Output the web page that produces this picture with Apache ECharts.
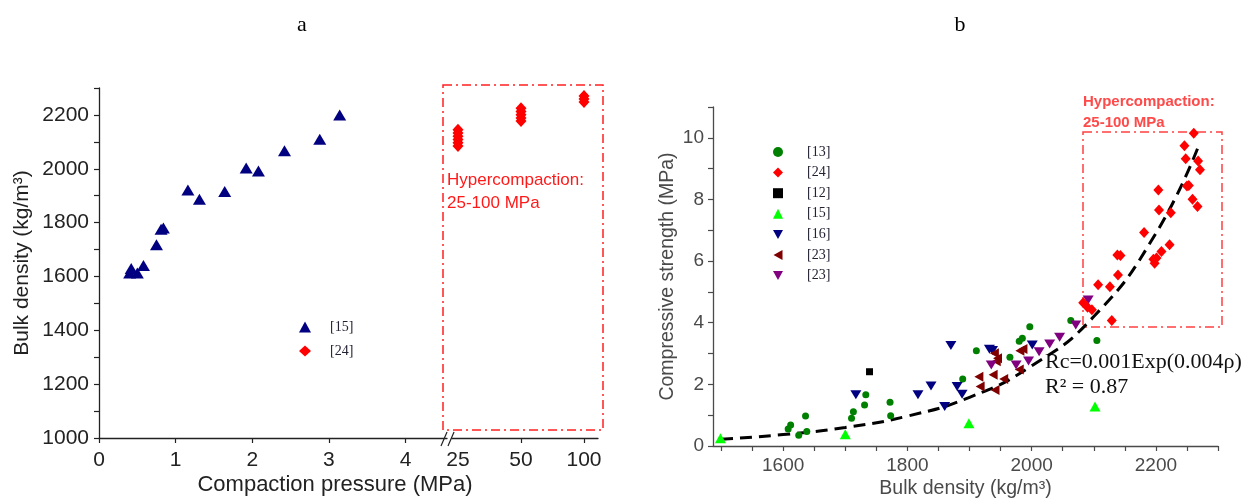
<!DOCTYPE html>
<html><head><meta charset="utf-8">
<script src="https://cdn.jsdelivr.net/npm/echarts@6/dist/echarts.min.js"></script>
<style>html,body{margin:0;padding:0;background:#fff}#c{width:1259px;height:500px}</style>
</head><body><div id="c"></div>
<script>
// ---------- Panel a ----------
const lowTicks = [0, 1, 2, 3, 4];
const highTicks = [25, 50, 100];
const highTickMarks = [50, 100];
const densityLabels = [1000, 1200, 1400, 1600, 1800, 2000, 2200];
const densityTickVals = [1000, 1100, 1200, 1300, 1400, 1500, 1600, 1700, 1800, 1900, 2000, 2100, 2200, 2300];
const pressure15 = [0.40, 0.42, 0.50, 0.58, 0.75, 0.81, 0.84, 1.16, 1.31, 1.64, 1.92, 2.08, 2.42, 2.88, 3.14];
const density15  = [1613, 1630, 1613, 1641, 1718, 1775, 1780, 1921, 1887, 1916, 2003, 1992, 2067, 2110, 2200];
const pressure24 = [25, 25, 25, 25, 25, 25, 50, 50, 50, 50, 50, 100, 100, 100];
const density24  = [2085, 2097, 2109, 2121, 2133, 2145, 2177, 2189, 2201, 2213, 2225, 2248, 2259, 2270];

// ---------- Panel b ----------
const strengthLabels = [0, 2, 4, 6, 8, 10];
const strengthTickVals = [0, 1, 2, 3, 4, 5, 6, 7, 8, 9, 10, 11];
const bulkLabels = [1600, 1800, 2000, 2200];
const bulkTickVals = [1500, 1550, 1600, 1650, 1700, 1750, 1800, 1850, 1900, 1950, 2000, 2050, 2100, 2150, 2200, 2250, 2300];

const rho13 = [1608, 1612, 1625, 1636, 1638, 1710, 1713, 1731, 1733, 1772, 1773, 1889, 1911, 1965, 1980, 1985, 1997, 2063, 2105];
const rc13  = [0.55, 0.68, 0.35, 0.97, 0.47, 0.90, 1.11, 1.33, 1.66, 1.42, 0.98, 2.17, 3.09, 2.88, 3.40, 3.50, 3.87, 4.07, 3.42];
const rho24 = [2083, 2090, 2097, 2107, 2126, 2129, 2139, 2138, 2143, 2181, 2196, 2198, 2201, 2209, 2222, 2204, 2205, 2224, 2246, 2248, 2250, 2253, 2259, 2261, 2267, 2268, 2271];
const rc24  = [4.65, 4.50, 4.42, 5.23, 5.17, 4.07, 5.55, 6.20, 6.18, 6.93, 6.06, 5.93, 6.10, 6.31, 6.53, 8.31, 7.66, 7.57, 9.74, 9.32, 8.44, 8.45, 8.01, 10.15, 7.77, 9.25, 8.96];
const rho12 = [1739];
const rc12  = [2.41];
const rho15 = [1499, 1700, 1899, 2102];
const rc15  = [0.25, 0.38, 0.74, 1.28];
const rho16 = [1717, 1817, 1838, 1860, 1870, 1880, 1888, 1932, 1937, 2001];
const rc16  = [1.66, 1.66, 1.95, 1.28, 3.26, 1.93, 1.68, 3.14, 3.10, 3.28];
const rho23a = [1915, 1917, 1938, 1940, 1945, 1943, 1941, 1955, 1980, 1981, 1986];
const rc23a  = [2.25, 1.93, 2.31, 3.01, 2.85, 2.75, 1.82, 2.17, 2.48, 3.09, 3.15];
const rho23b = [1935, 1975, 1995, 2012, 2029, 2045, 2071, 2091];
const rc23b  = [2.63, 2.63, 2.76, 3.06, 3.31, 3.53, 3.93, 4.74];
const fitRho = [1500, 1600, 1700, 1800, 1900, 2000, 2100, 2200, 2270];
const fitRc  = [0.22, 0.37, 0.60, 0.97, 1.58, 2.60, 4.20, 6.90, 9.80];

const legendNames = {a15: '[15]', a24: '[24]', b13: '[13]', b24: '[24]', b12: '[12]', b15: '[15]', b16: '[16]', b23a: '[23]', b23b: '[23]'};

const zip = (xs, ys) => xs.map((x, i) => [x, ys[i]]);

const sans = 'Liberation Sans';
const serif = 'Liberation Serif';
const colA = '#222';
const colB = '#4a4a4a';
const downTri = 'path://M0,0L10,0L5,9Z';
const leftTri = 'path://M9,0L9,10L0,5Z';

function axisCommon(color, fs, ticks, labels, margin, extra) {
  return Object.assign({
    type: 'value',
    splitLine: {show: false},
    nameMoveOverlap: false,
    axisLine: {show: true, onZero: false, lineStyle: {color: color, width: 1.3}},
    axisTick: {show: true, customValues: ticks, length: 5, lineStyle: {color: color, width: 1.2}},
    axisLabel: {customValues: labels, fontSize: fs, color: color, fontFamily: sans, margin: margin, formatter: v => String(v)}
  }, extra);
}

const chart = echarts.init(document.getElementById('c'), null, {renderer: 'canvas'});

const legendText = (pad) => ({fontFamily: serif, fontSize: 14, color: '#223', lineHeight: 14, padding: [0, 0, 0, pad]});

const option = {
  animation: false,
  backgroundColor: '#fff',
  grid: [
    {left: 99, top: 88, width: 348, height: 350, outerBoundsMode: 'none'},
    {left: 452, top: 88, width: 146, height: 350, outerBoundsMode: 'none'},
    {left: 713, top: 107, width: 505, height: 339, outerBoundsMode: 'none'}
  ],
  xAxis: [
    axisCommon(colA, 21, lowTicks, lowTicks, 12, {gridIndex: 0, min: 0, max: 4.54}),
    (function () {
      const a = axisCommon(colA, 21, [1, 2], [0, 1, 2], 12, {gridIndex: 1, min: -0.095, max: 2.222});
      a.axisTick.customValues = highTickMarks.map(v => highTicks.indexOf(v));
      a.axisLabel.formatter = v => String(highTicks[Math.round(v)]);
      return a;
    })(),
    axisCommon(colB, 19, bulkTickVals, bulkLabels, 10, {
      gridIndex: 2, min: 1487, max: 2300,
      name: 'Bulk density (kg/m³)', nameLocation: 'middle', nameGap: 33,
      nameTextStyle: {fontSize: 19.5, color: colB, fontFamily: sans}
    })
  ],
  yAxis: [
    axisCommon(colA, 21, densityTickVals, densityLabels, 10, {
      gridIndex: 0, min: 1000, max: 2300,
      name: 'Bulk density (kg/m³)', nameLocation: 'middle', nameGap: 66,
      nameTextStyle: {fontSize: 21, color: colA, fontFamily: sans}
    }),
    {type: 'value', gridIndex: 1, min: 1000, max: 2300, show: false, splitLine: {show: false}},
    axisCommon(colB, 19, strengthTickVals, strengthLabels, 9, {
      gridIndex: 2, min: 0, max: 11,
      name: 'Compressive strength (MPa)', nameLocation: 'middle', nameGap: 35,
      nameTextStyle: {fontSize: 19.5, color: colB, fontFamily: sans}
    })
  ],
  legend: [
    {
      data: [{name: 'a15'}, {name: 'a24'}], formatter: n => legendNames[n], selectedMode: false,
      orient: 'vertical', left: 294, top: 315, itemWidth: 12, itemHeight: 11, itemGap: 10,
      symbolKeepAspect: true,
      textStyle: legendText(14)
    },
    {
      data: [
        {name: 'b13'}, {name: 'b24'}, {name: 'b12'}, {name: 'b15'},
        {name: 'b16', icon: downTri}, {name: 'b23a', icon: leftTri}, {name: 'b23b', icon: downTri}
      ],
      formatter: n => legendNames[n], selectedMode: false,
      orient: 'vertical', left: 768, top: 140, itemWidth: 10, itemHeight: 10, itemGap: 6.6,
      symbolKeepAspect: true,
      textStyle: legendText(19)
    }
  ],
  series: [
    {name: 'a15', type: 'scatter', xAxisIndex: 0, yAxisIndex: 0, symbol: 'triangle', symbolSize: [13, 11],
     itemStyle: {color: '#000080', opacity: 1}, data: zip(pressure15, density15)},
    {name: 'a24', type: 'scatter', xAxisIndex: 1, yAxisIndex: 1, symbol: 'diamond', symbolSize: [11, 12],
     itemStyle: {color: '#ff0000', opacity: 1}, data: zip(pressure24.map(p => highTicks.indexOf(p)), density24)},

    {name: 'fit', type: 'line', xAxisIndex: 2, yAxisIndex: 2, smooth: true, symbol: 'none', z: 1,
     lineStyle: {color: '#000', width: 3, type: [12, 7]}, data: zip(fitRho, fitRc)},
    {name: 'b13', type: 'scatter', xAxisIndex: 2, yAxisIndex: 2, symbol: 'circle', symbolSize: 7,
     itemStyle: {color: '#008000', opacity: 1}, data: zip(rho13, rc13)},
    {name: 'b12', type: 'scatter', xAxisIndex: 2, yAxisIndex: 2, symbol: 'rect', symbolSize: 7,
     itemStyle: {color: '#000000', opacity: 1}, data: zip(rho12, rc12)},
    {name: 'b15', type: 'scatter', xAxisIndex: 2, yAxisIndex: 2, symbol: 'triangle', symbolSize: [11, 10],
     itemStyle: {color: '#00ff00', opacity: 1}, data: zip(rho15, rc15)},
    {name: 'b16', type: 'scatter', xAxisIndex: 2, yAxisIndex: 2, symbol: 'triangle', symbolRotate: 180, symbolSize: [11, 9],
     itemStyle: {color: '#000080', opacity: 1}, data: zip(rho16, rc16)},
    {name: 'b23a', type: 'scatter', xAxisIndex: 2, yAxisIndex: 2, symbol: 'triangle', symbolRotate: 90, symbolSize: [10, 9],
     itemStyle: {color: '#800000', opacity: 1}, data: zip(rho23a, rc23a)},
    {name: 'b23b', type: 'scatter', xAxisIndex: 2, yAxisIndex: 2, symbol: 'triangle', symbolRotate: 180, symbolSize: [11, 9],
     itemStyle: {color: '#800080', opacity: 1}, data: zip(rho23b, rc23b)},
    {name: 'b24', type: 'scatter', xAxisIndex: 2, yAxisIndex: 2, symbol: 'diamond', symbolSize: [10, 11],
     itemStyle: {color: '#ff0000', opacity: 1}, data: zip(rho24, rc24)}
  ],
  graphic: [
    {type: 'text', x: 302, y: 25, style: {text: 'a', font: '22px "Liberation Serif"', fill: '#000', align: 'center', verticalAlign: 'middle'}},
    {type: 'text', x: 960, y: 25, style: {text: 'b', font: '22px "Liberation Serif"', fill: '#000', align: 'center', verticalAlign: 'middle'}},
    {type: 'text', x: 335, y: 485, style: {text: 'Compaction pressure (MPa)', font: '22px "Liberation Sans"', fill: colA, align: 'center', verticalAlign: 'middle'}},
    // axis break marks
    {type: 'line', shape: {x1: 441, y1: 446, x2: 447, y2: 432}, style: {stroke: '#222', lineWidth: 1.2}},
    {type: 'line', shape: {x1: 448, y1: 446, x2: 454, y2: 432}, style: {stroke: '#222', lineWidth: 1.2}},
    // hypercompaction box (a)
    {type: 'rect', shape: {x: 443, y: 85, width: 160, height: 345}, z: 0,
     style: {fill: 'none', stroke: '#ff2020', lineWidth: 1.5, lineDash: [9, 4, 2, 4]}},
    {type: 'text', x: 447, y: 180, style: {text: 'Hypercompaction:', font: '17px "Liberation Sans"', fill: '#ff1a1a', verticalAlign: 'middle'}},
    {type: 'text', x: 447, y: 203, style: {text: '25-100 MPa', font: '17px "Liberation Sans"', fill: '#ff1a1a', verticalAlign: 'middle'}},
    // hypercompaction box (b)
    {type: 'rect', shape: {x: 1083, y: 132, width: 139, height: 195}, z: 0,
     style: {fill: 'none', stroke: '#ff4040', lineWidth: 1.5, lineDash: [9, 4, 2, 4]}},
    {type: 'text', x: 1083, y: 102, style: {text: 'Hypercompaction:', font: 'bold 15px "Liberation Sans"', fill: '#ff4a4a', verticalAlign: 'middle'}},
    {type: 'text', x: 1083, y: 123, style: {text: '25-100 MPa', font: 'bold 15px "Liberation Sans"', fill: '#ff4a4a', verticalAlign: 'middle'}},
    // equation
    {type: 'text', x: 1045, y: 362, style: {text: 'Rc=0.001Exp(0.004ρ)', font: '22px "Liberation Serif"', fill: '#111', verticalAlign: 'middle'}},
    {type: 'text', x: 1045, y: 387, style: {text: 'R² = 0.87', font: '22px "Liberation Serif"', fill: '#111', verticalAlign: 'middle'}}
  ]
};
chart.setOption(option);
</script>
</body></html>
